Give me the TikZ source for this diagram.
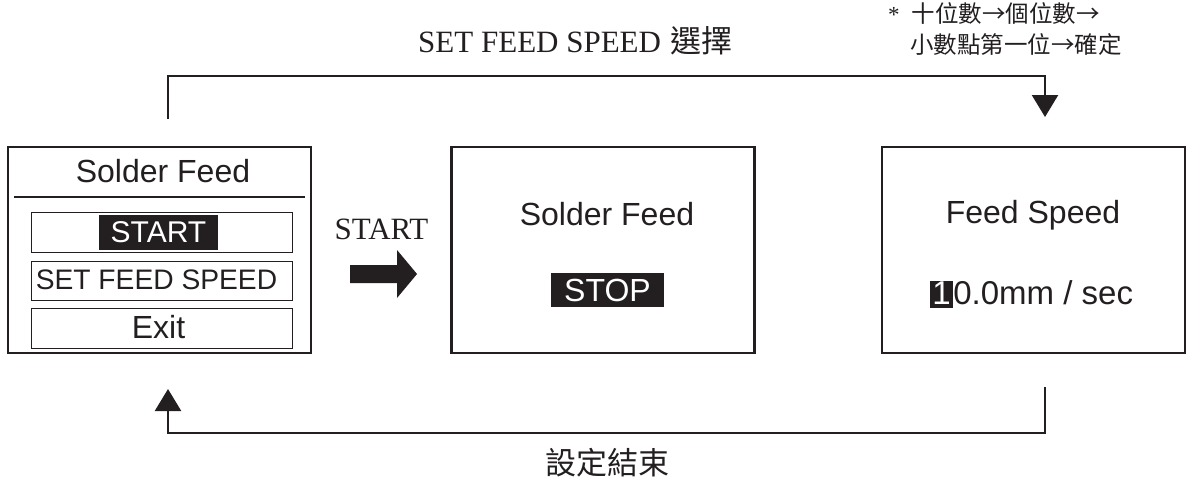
\documentclass[tikz,border=0pt]{standalone}
\usepackage{fontspec}
\setmainfont{Liberation Serif}
\setsansfont{Liberation Sans}
\newfontfamily\cjk{Noto Sans CJK TC}
\usetikzlibrary{arrows.meta,calc}
\definecolor{ink}{HTML}{231F20}
\newcommand\hlchar[1]{\begingroup\setlength{\fboxsep}{0pt}\colorbox{ink}{\rule[-4pt]{0pt}{27pt}\hspace{2.5pt}\textcolor{white}{#1}\hspace{2.5pt}}\endgroup}
\begin{document}
\begin{tikzpicture}[x=1pt,y=-1pt, every node/.style={text=ink},
  screen/.style={draw=ink, line width=2.4pt, inner sep=0pt, minimum width=303pt, minimum height=206pt},
  menuitem/.style={draw=ink, line width=1pt, inner sep=0pt, minimum width=261pt, minimum height=39pt},
  lcd/.style={font=\sffamily\fontsize{32}{36}\selectfont, inner sep=0pt},
  hlbox/.style={fill=ink, text=white, inner sep=0pt, font=\sffamily\fontsize{30}{34}\selectfont},
  flow/.style={draw=ink, line width=2.4pt},
  tipdown/.style={-{Triangle[length=22pt,width=26pt]}},
  serif/.style={font=\fontsize{31}{35}\selectfont, inner sep=0pt},
  cjklabel/.style={font=\cjk\fontsize{31}{36}\selectfont, inner sep=0pt},
  notefont/.style={font=\cjk\fontsize{23.5}{28}\selectfont, inner sep=0pt}
]
\useasboundingbox (0,0) rectangle (1190,480);

% screens
\node[screen] (b1) at (159.5,250) {};
\node[screen] (b2) at (603,250) {};
\node[screen] (b3) at (1033.5,250) {};

% screen 1
\node[lcd, anchor=base] (t1) at (163,182) {Solder Feed};
\draw[ink, line width=2pt] (14,197) -- (305,197);
\node[menuitem, minimum height=40pt] (m1) at (161.5,232) {};
\node[hlbox, minimum width=119pt, minimum height=35pt] (hs) at (158.5,232.5) {START};
\node[menuitem] (m2) at (161.5,280.5) {};
\node[lcd, anchor=base, font=\sffamily\fontsize{28.2}{32}\selectfont] (m2t) at (156.5,289) {SET FEED SPEED};
\node[menuitem, minimum height=40pt] (m3) at (161.5,328) {};
\node[lcd, anchor=base] (m3t) at (158.5,338) {Exit};

% screen 2
\node[lcd, anchor=base] (t2) at (607,225) {Solder Feed};
\node[hlbox, font=\sffamily\fontsize{32}{36}\selectfont, minimum width=113pt, minimum height=34pt] (hstop) at (607.5,290) {STOP};

% screen 3
\node[lcd, anchor=base] (t3) at (1033,223) {Feed Speed};
\node[lcd, anchor=base, font=\sffamily\fontsize{33}{38}\selectfont] (v3) at (1031.5,304) {\hlchar{1}0.0mm / sec};

% big START arrow
\node[serif, anchor=base] (lstart) at (381.5,239) {START};
\fill[ink] (350,265) -- (397,265) -- (397,250) -- (417,274) -- (397,298) -- (397,283) -- (350,283) -- cycle;

% top loop
\coordinate (topStart) at (168,119);
\coordinate (topEnd) at (1045,117);
\coordinate (topY) at (0,76);
\draw[flow, tipdown] (topStart) |- (topY -| topEnd) -- (topEnd);
\node[serif, anchor=base west] (ltop) at (418,52) {SET FEED SPEED\hspace{9pt}{\cjk\fontsize{31}{35}\selectfont 選擇}};

% note
\node[notefont, anchor=base west] (n1) at (888,22) {{\rmfamily\fontsize{23}{28}\selectfont *}\hspace{12pt}十位數→個位數→};
\node[notefont, anchor=base west] (n2) at (910,53) {小數點第一位→確定};

% bottom loop
\coordinate (botStart) at (1045,387);
\coordinate (botEnd) at (168,389);
\coordinate (botY) at (0,433);
\draw[flow, tipdown] (botStart) |- (botY -| botEnd) -- (botEnd);
\node[cjklabel, anchor=base] (lbot) at (607,474) {設定結束};
\end{tikzpicture}
\end{document}
